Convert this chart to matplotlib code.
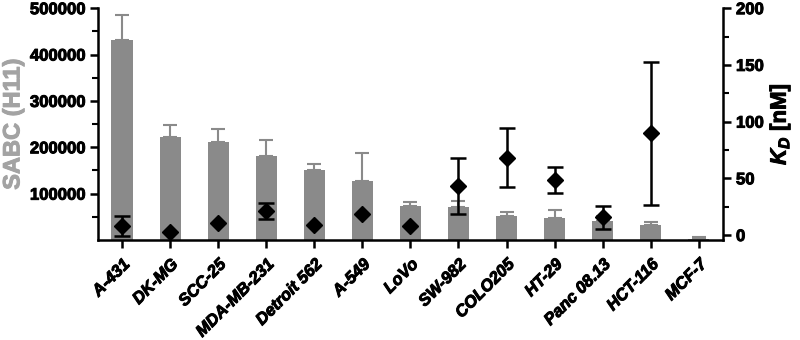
import matplotlib.pyplot as plt
import matplotlib.patheffects as pe
import numpy as np

plt.rcParams["font.family"] = ["Liberation Sans", "DejaVu Sans"]
plt.rcParams["font.weight"] = "bold"
plt.rcParams["mathtext.fontset"] = "custom"
plt.rcParams["mathtext.it"] = "Liberation Sans:italic:bold"
plt.rcParams["mathtext.rm"] = "Liberation Sans:bold"

# 세포주별 SABC / KD 값
cell_lines = ["A-431", "DK-MG", "SCC-25", "MDA-MB-231", "Detroit 562", "A-549", "LoVo",
              "SW-982", "COLO205", "HT-29", "Panc 08.13", "HCT-116", "MCF-7"]
sabc = [432000, 222000, 212000, 181000, 150000, 127000, 72500,
        70500, 51000, 47500, 40500, 33000, 3000]
sabc_err = [53000, 27000, 28000, 34000, 13000, 60000, 8500,
            14500, 9000, 18000, 12000, 5000, 2500]
kd = [8.2, 2.4, 10.8, 21.0, 8.8, 18.5, 7.9,
      43.4, 68.0, 48.5, 15.6, 89.6, np.nan]
kd_err = [9.0, 0, 0, 7.0, 0, 0, 0,
          24.5, 26.0, 11.5, 10.0, 62.7, 0]

left_ticks = [100000, 200000, 300000, 400000, 500000]
right_ticks = [0, 50, 100, 150, 200]

BAR_COLOR = "#8a8a8a"
LABEL_GRAY = "#a3a3a3"

fig = plt.figure(figsize=(8, 3.4), dpi=100)
ax = fig.add_axes([0.1225, 0.294, 0.781, 0.682])
ax2 = ax.twinx()

x = np.arange(len(cell_lines))
ax.bar(x, sabc, width=0.44, color=BAR_COLOR, zorder=2)
ax.errorbar(x, sabc, yerr=[np.zeros(len(sabc)), sabc_err], fmt="none",
            ecolor=BAR_COLOR, elinewidth=1.5, capsize=5, capthick=1.5, zorder=1)

kd_arr = np.array(kd)
kd_e = np.array(kd_err)
mask = ~np.isnan(kd_arr)
has_err = mask & (kd_e > 0)
ax2.errorbar(x[has_err], kd_arr[has_err], yerr=kd_e[has_err], fmt="none",
             ecolor="black", elinewidth=1.8, capsize=6, capthick=1.8, zorder=3)
ax2.plot(x[mask], kd_arr[mask], "D", color="black", markersize=8, zorder=4)

ax.set_xlim(-0.5, len(cell_lines) - 0.5)
ax.set_ylim(0, 500000)
ax2.set_ylim(-4.4, 200)

ax.set_yticks(left_ticks)
ax.set_yticklabels([str(t) for t in left_ticks], fontsize=12, fontweight="bold")
ax.set_yticks(np.arange(50000, 500000, 100000), minor=True)
ax2.set_yticks(right_ticks)
ax2.set_yticklabels([str(t) for t in right_ticks], fontsize=12, fontweight="bold")
ax2.set_yticks([25, 75, 125, 175], minor=True)

ax.set_xticks(x)
ax.set_xticklabels(cell_lines, rotation=45, ha="right", rotation_mode="anchor",
                   fontsize=12, fontstyle="italic", fontweight="bold")

for a in (ax, ax2):
    a.spines["top"].set_visible(False)
    for s in a.spines.values():
        s.set_linewidth(1.8)
    a.tick_params(axis="both", which="major", length=6, width=1.8)
    a.tick_params(axis="y", which="minor", length=4, width=1.5)
ax.tick_params(axis="x", pad=6)
ax.spines["right"].set_visible(False)
ax2.spines["left"].set_visible(False)
ax2.spines["bottom"].set_visible(False)

yl = ax.set_ylabel("SABC (H11)", color=LABEL_GRAY, fontsize=17, fontweight="bold", labelpad=4)
yr = ax2.set_ylabel(r"$K_D$ [nM]", fontsize=16, fontweight="bold", labelpad=3)

# 굵게 보이도록 얇은 외곽선
thick = [pe.withStroke(linewidth=0.7, foreground="black")]
for lab in ax.get_xticklabels() + ax.get_yticklabels() + ax2.get_yticklabels() + [yr]:
    lab.set_path_effects(thick)
yl.set_path_effects([pe.withStroke(linewidth=0.7, foreground=LABEL_GRAY)])

plt.savefig("out.png", dpi=100)
plt.close()
